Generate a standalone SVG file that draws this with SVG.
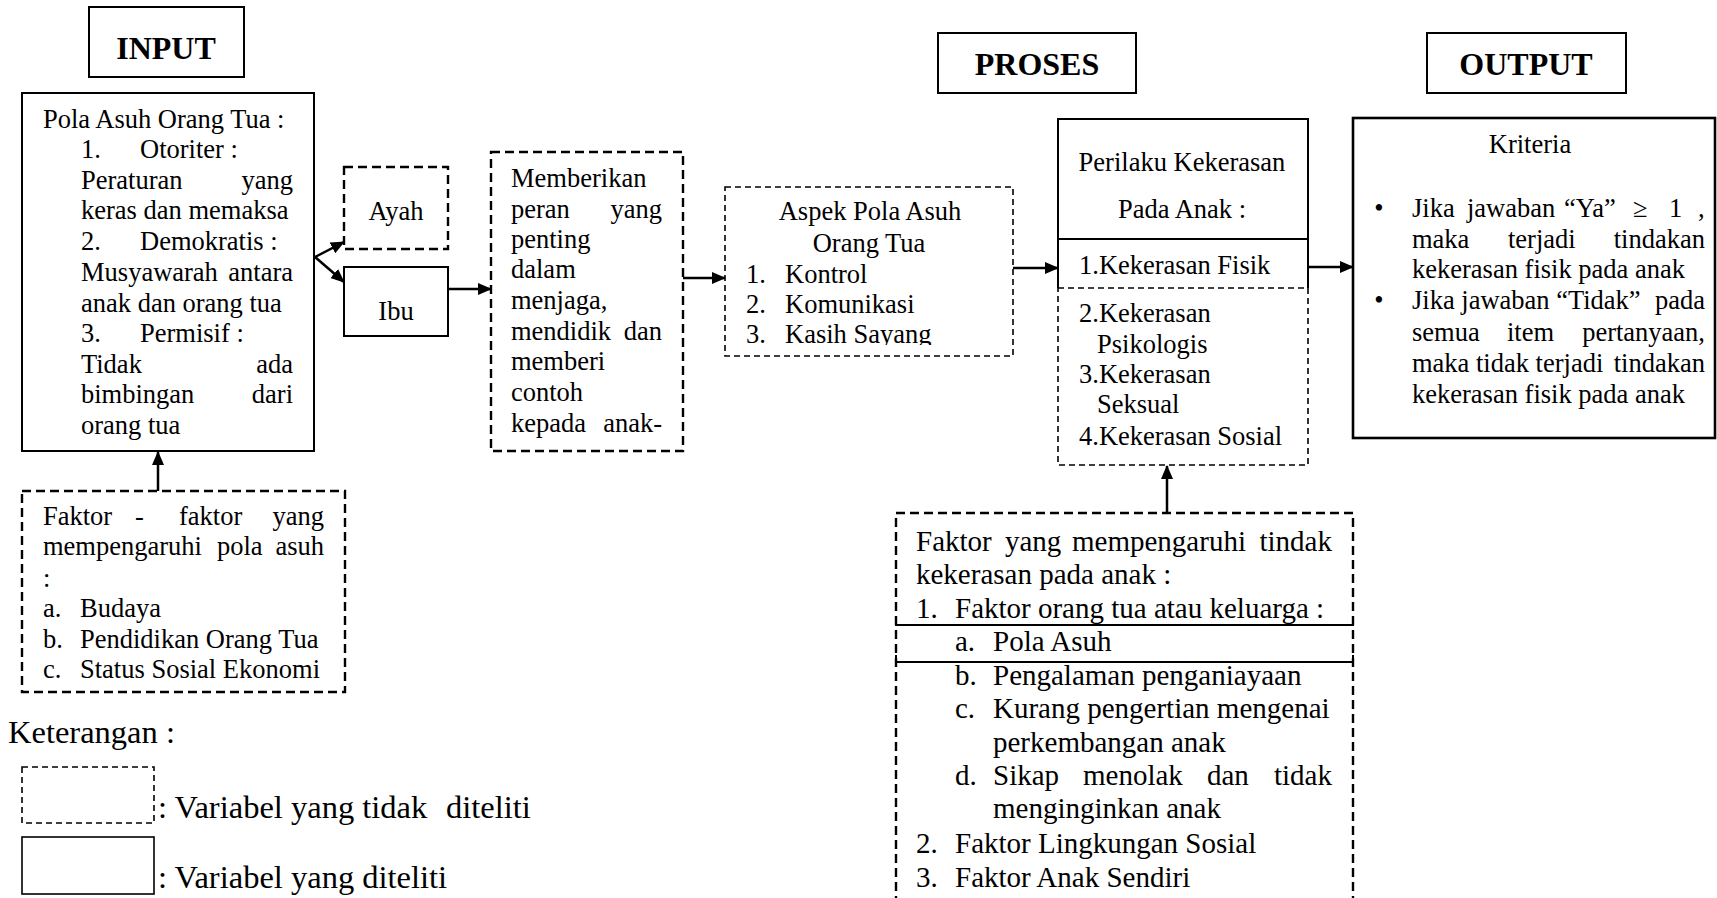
<svg xmlns="http://www.w3.org/2000/svg" width="1717" height="898" viewBox="0 0 1717 898">
<style>
text{font-family:"Liberation Serif","Times New Roman",serif;font-size:26.5px;fill:#000}
.h{font-weight:bold;font-size:32px}
.f{font-size:29px}
.lg{font-size:32.5px}
.m{text-anchor:middle}
.e{text-anchor:end}
.box{fill:none;stroke:#000;stroke-width:2}
.bx3{fill:none;stroke:#000;stroke-width:2.6}
.dash{fill:none;stroke:#000;stroke-width:2.4;stroke-dasharray:9 5}
.dash2{fill:none;stroke:#000;stroke-width:1.6;stroke-dasharray:6 4}
.conn path{fill:none;stroke:#000;stroke-width:2.5;marker-end:url(#ah)}
</style>
<defs>
<marker id="ah" viewBox="0 0 14 12" refX="13" refY="6" markerWidth="14" markerHeight="12" markerUnits="userSpaceOnUse" orient="auto">
<path d="M0,0 L14,6 L0,12 z" fill="#000"/>
</marker>
<clipPath id="clipAspek"><rect x="725" y="187" width="288" height="158"/></clipPath>
</defs>
<rect width="1717" height="898" fill="#fff"/>

<g id="input-label">
<rect class="box" x="89" y="7" width="155" height="70"/>
<text class="h m" x="166" y="59">INPUT</text>
</g>
<g id="proses-label">
<rect class="box" x="938" y="33" width="198" height="60"/>
<text class="h m" x="1037" y="75">PROSES</text>
</g>
<g id="output-label">
<rect class="box" x="1427" y="33" width="199" height="60"/>
<text class="h m" x="1526" y="75">OUTPUT</text>
</g>

<g id="pola-asuh">
<rect class="box" x="22" y="93" width="292" height="358"/>
<text x="43" y="128">Pola Asuh Orang Tua :</text>
<text x="81" y="158">1.</text><text x="140" y="158">Otoriter :</text>
<text x="81" y="189">Peraturan</text><text class="e" x="293" y="189">yang</text>
<text x="81" y="219">keras dan memaksa</text>
<text x="81" y="250">2.</text><text x="140" y="250">Demokratis :</text>
<text x="81" y="281">Musyawarah</text><text class="e" x="293" y="281">antara</text>
<text x="81" y="312">anak dan orang tua</text>
<text x="81" y="342">3.</text><text x="140" y="342">Permisif :</text>
<text x="81" y="373">Tidak</text><text class="e" x="293" y="373">ada</text>
<text x="81" y="403">bimbingan</text><text class="e" x="293" y="403">dari</text>
<text x="81" y="434">orang tua</text>
</g>

<g id="ayah">
<rect class="dash" x="344" y="167" width="104" height="82"/>
<text class="m" x="396" y="220">Ayah</text>
</g>
<g id="ibu">
<rect class="box" x="344" y="267" width="104" height="69"/>
<text class="m" x="396" y="320">Ibu</text>
</g>

<g id="memberikan">
<rect class="dash" x="491" y="152" width="192" height="299"/>
<text x="511" y="187">Memberikan</text>
<text x="511" y="218">peran</text><text class="e" x="662" y="218">yang</text>
<text x="511" y="248">penting</text>
<text x="511" y="278">dalam</text>
<text x="511" y="309">menjaga,</text>
<text x="511" y="340">mendidik</text><text class="e" x="662" y="340">dan</text>
<text x="511" y="370">memberi</text>
<text x="511" y="401">contoh</text>
<text x="511" y="432">kepada</text><text class="e" x="662" y="432">anak-</text>
</g>

<g id="aspek">
<rect class="dash2" x="725" y="187" width="288" height="169"/>
<text class="m" x="870" y="220">Aspek Pola Asuh</text>
<text class="m" x="869" y="252">Orang Tua</text>
<text x="746" y="283">1.</text><text x="785" y="283">Kontrol</text>
<text x="746" y="313">2.</text><text x="785" y="313">Komunikasi</text>
<g clip-path="url(#clipAspek)"><text x="746" y="343">3.</text><text x="785" y="343">Kasih Sayang</text></g>
</g>

<g id="perilaku">
<path class="box" d="M1058,288 V119 H1308 V288"/>
<line class="box" x1="1058" y1="239" x2="1308" y2="239"/>
<rect class="dash2" x="1058" y="288" width="250" height="177"/>
<text class="m" x="1182" y="171">Perilaku Kekerasan</text>
<text class="m" x="1182" y="218">Pada Anak :</text>
<text x="1079" y="274">1.Kekerasan Fisik</text>
<text x="1079" y="322">2.Kekerasan</text>
<text x="1097" y="353">Psikologis</text>
<text x="1079" y="383">3.Kekerasan</text>
<text x="1097" y="413">Seksual</text>
<text x="1079" y="445">4.Kekerasan Sosial</text>
</g>

<g id="kriteria">
<rect class="bx3" x="1353" y="118" width="362" height="320"/>
<text class="m" x="1530" y="153">Kriteria</text>
<text class="m" x="1379" y="217">•</text>
<text x="1412" y="217">Jika</text><text x="1467" y="217">jawaban</text><text x="1564" y="217">“Ya”</text><text x="1633" y="217">≥</text><text x="1669" y="217">1</text><text x="1698" y="217">,</text>
<text x="1412" y="248">maka</text><text x="1508" y="248">terjadi</text><text class="e" x="1705" y="248">tindakan</text>
<text x="1412" y="278">kekerasan fisik pada anak</text>
<text class="m" x="1379" y="309">•</text>
<text x="1412" y="309">Jika jawaban “Tidak”</text><text class="e" x="1705" y="309">pada</text>
<text x="1412" y="341">semua</text><text x="1507" y="341">item</text><text class="e" x="1705" y="341">pertanyaan,</text>
<text x="1412" y="372">maka tidak terjadi</text><text class="e" x="1705" y="372">tindakan</text>
<text x="1412" y="403">kekerasan fisik pada anak</text>
</g>

<g id="faktor-pola-asuh">
<rect class="dash" x="22" y="491" width="323" height="201"/>
<text x="43" y="525">Faktor</text><text x="135" y="525">-</text><text x="179" y="525">faktor</text><text class="e" x="324" y="525">yang</text>
<text x="43" y="555">mempengaruhi</text><text x="217" y="555">pola</text><text class="e" x="324" y="555">asuh</text>
<text x="43" y="587">:</text>
<text x="43" y="617">a.</text><text x="80" y="617">Budaya</text>
<text x="43" y="648">b.</text><text x="80" y="648">Pendidikan Orang Tua</text>
<text x="43" y="678">c.</text><text x="80" y="678">Status Sosial Ekonomi</text>
</g>

<g id="faktor-kekerasan">
<path class="dash" d="M896,905 V513 H1353 V905"/>
<path class="box" d="M896,618 V625 H1353 V618 M896,655 V662 H1353 V655"/>
<text class="f" x="916" y="551">Faktor</text><text class="f" x="1005" y="551">yang</text><text class="f" x="1072" y="551">mempengaruhi</text><text class="f e" x="1332" y="551">tindak</text>
<text class="f" x="916" y="584">kekerasan pada anak :</text>
<text class="f" x="916" y="618">1.</text><text class="f" x="955" y="618">Faktor orang tua atau keluarga :</text>
<text class="f" x="955" y="651">a.</text><text class="f" x="993" y="651">Pola Asuh</text>
<text class="f" x="955" y="685">b.</text><text class="f" x="993" y="685">Pengalaman penganiayaan</text>
<text class="f" x="955" y="718">c.</text><text class="f" x="993" y="718">Kurang pengertian mengenai</text>
<text class="f" x="993" y="752">perkembangan anak</text>
<text class="f" x="955" y="785">d.</text><text class="f" x="993" y="785">Sikap</text><text class="f" x="1083" y="785">menolak</text><text class="f" x="1207" y="785">dan</text><text class="f e" x="1332" y="785">tidak</text>
<text class="f" x="993" y="818">menginginkan anak</text>
<text class="f" x="916" y="853">2.</text><text class="f" x="955" y="853">Faktor Lingkungan Sosial</text>
<text class="f" x="916" y="887">3.</text><text class="f" x="955" y="887">Faktor Anak Sendiri</text>
</g>

<g id="legend">
<text class="lg" x="8" y="743">Keterangan :</text>
<rect class="dash2" x="22" y="767" width="132" height="56"/>
<text class="lg" x="158" y="818">: Variabel yang tidak</text><text class="lg" x="446" y="818">diteliti</text>
<rect class="box" x="22" y="837" width="132" height="57" style="stroke-width:1.6"/>
<text class="lg" x="158" y="888">: Variabel yang diteliti</text>
</g>

<g id="connectors" class="conn">
<path d="M315,257 L344,242"/>
<path d="M315,257 L344,282"/>
<path d="M448,289 L491,289"/>
<path d="M683,278 L725,278"/>
<path d="M1013,268 L1058,268"/>
<path d="M1308,267 L1353,267"/>
<path d="M158,491 L158,452"/>
<path d="M1167,513 L1167,466"/>
</g>
</svg>
